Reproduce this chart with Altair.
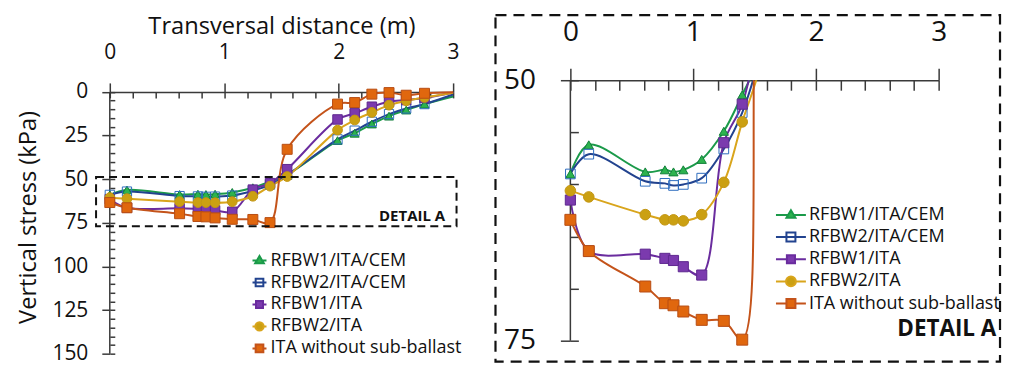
import altair as alt
import pandas as pd

# ---------------- data ----------------
series_names = ["RFBW1/ITA/CEM", "RFBW2/ITA/CEM", "RFBW1/ITA", "RFBW2/ITA", "ITA without sub-ballast"]
distance_m = [0.0, 0.15, 0.61, 0.77, 0.84, 0.92, 1.07, 1.25, 1.40, 1.55, 1.99, 2.14, 2.29, 2.44, 2.59, 2.75, 3.0]
stress_rfbw1_ita_cem = [59.0, 56.2, 58.8, 58.6, 58.8, 58.6, 57.6, 54.9, 51.4, 47.5, 27.9, 23.7, 18.4, 13.9, 10.4, 7.0, 2.6]
stress_rfbw2_ita_cem = [59.0, 57.1, 59.7, 59.9, 60.1, 60.0, 59.4, 56.6, 53.1, 47.5, 27.2, 22.2, 17.1, 12.7, 9.5, 7.0, 1.5]
stress_rfbw1_ita = [61.5, 66.4, 66.7, 67.1, 67.3, 67.9, 68.7, 56.0, 52.3, 44.3, 15.8, 12.3, 8.5, 5.7, 4.7, 3.5, 0.5]
stress_rfbw2_ita = [60.6, 61.2, 62.9, 63.4, 63.4, 63.5, 62.9, 59.8, 54.0, 48.5, 21.9, 16.1, 11.8, 7.6, 5.1, 3.2, 0.5]
stress_ita_no_subballast = [63.4, 66.4, 69.8, 71.4, 71.6, 72.2, 73.0, 73.1, 74.9, 32.9, 7.0, 6.1, 1.3, 0.4, 1.9, 0.8, 0.2]

x_ticks_major = [0, 1, 2, 3]
x_ticks_minor = [round(i * 0.2, 1) for i in range(16)]
y_ticks_main = [0, 25, 50, 75, 100, 125, 150]
y_ticks_main_minor = list(range(0, 151, 5))
y_ticks_detail = [50, 75]
y_ticks_detail_minor = [50, 55, 60, 65, 70, 75]

# axis extents (data units)
main_y_range = [0, 150]
detail_y_range = [50, 75]

# annotation boxes / labels (data units)
detail_box_main_x = [-0.12, 3.03]
detail_box_main_y = [48.7, 77.0]
detail_box_panel_x = [-0.61, 3.50]
detail_box_panel_y = [43.75, 77.0]
detail_label_main = [2.93, 70.9]
detail_label_panel = [3.47, 73.9]
detail_text = "DETAIL A"

# ---------------- styles ----------------
FONT = "Open Sans"
AXC = "#3a3a3a"
line_colors = ["#1B9A4A", "#22438F", "#6A2C9E", "#D9A51C", "#C4531A"]
marker_strokes = ["#11803A", "#2F6DBF", "#5E2890", "#C29512", "#B84D14"]
marker_fills = ["#2DB34E", "transparent", "#7B3AAE", "#CBA012", "#E0670E"]
marker_shapes = ["triangle-up", "square", "square", "circle", "square"]
marker_sizes_main = [81, 100, 60, 115, 87]
marker_sizes_detail = [85, 121, 55, 100, 100]


def legend_path(kind, m, through=False):
    if kind == "triangle-up":
        mk = f"M0,{-1.05*m:.3f}L{m:.3f},{0.65*m:.3f}L{-m:.3f},{0.65*m:.3f}Z"
        g = 0.62 * m
    elif kind == "square":
        mk = f"M{-m:.3f},{-m:.3f}H{m:.3f}V{m:.3f}H{-m:.3f}Z"
        g = m
    else:
        mk = f"M{-m:.3f},0A{m:.3f},{m:.3f},0,1,1,{m:.3f},0A{m:.3f},{m:.3f},0,1,1,{-m:.3f},0Z"
        g = m
    ln = "M-1,0H1" if through else f"M-1,0H{-g:.3f}M{g:.3f},0H1"
    return ln + mk


legend_m_main = [0.62, 0.55, 0.5, 0.6, 0.55]
legend_m_detail = [0.3, 0.3, 0.27, 0.33, 0.3]
legend_paths_main = [legend_path(k, m, i == 1) for i, (k, m) in enumerate(zip(marker_shapes, legend_m_main))]
legend_paths_detail = [legend_path(k, m, i == 1) for i, (k, m) in enumerate(zip(marker_shapes, legend_m_detail))]

rows = []
for name, vals in zip(series_names, [stress_rfbw1_ita_cem, stress_rfbw2_ita_cem, stress_rfbw1_ita,
                                      stress_rfbw2_ita, stress_ita_no_subballast]):
    for i, (xv, yv) in enumerate(zip(distance_m, vals)):
        rows.append({"series": name, "x": xv, "y": yv, "idx": i})
df = pd.DataFrame(rows)


def panel(p):
    w, h, top = p["w"], p["h"], p["top"]
    xs = alt.Scale(domain=[0, 3], nice=False, zero=False)
    ys = alt.Scale(domain=p["ydom"], reverse=True, nice=False, zero=False)
    base = alt.Chart(df)
    lo, hi = p["yrange"]
    in_view = f"datum.y >= {lo} && datum.y <= {hi}"

    lines = base.mark_line(interpolate="catmull-rom", strokeWidth=2, clip=p["clip"]).encode(
        x=alt.X("x:Q", scale=xs, axis=alt.Axis(
            orient="top", offset=-top, values=x_ticks_major, format="d", labelFlush=False,
            labelOverlap=False, tickSize=p["xt"], labelPadding=p["xpad"], labelFontSize=p["lab"],
            title=p["xtitle"], titleFontSize=23.7, titlePadding=p["xtp"])),
        y=alt.Y("y:Q", scale=ys, axis=alt.Axis(
            orient="left", values=p["yvals"], labelOverlap=False, labelFlush=False, domain=False,
            tickSize=p["yt"], labelPadding=p["ypad"], labelFontSize=p["lab"], title=p["ytitle"],
            titleFontSize=23.7, titlePadding=p["ytp"])),
        stroke=alt.Stroke("series:N", scale=alt.Scale(domain=series_names, range=line_colors), legend=None),
    )

    # vertical axis line (y axis domain) drawn from the axis extent
    yline = alt.Chart(pd.DataFrame({"y0": [lo], "y1": [hi]})).mark_rule(
        color=AXC, strokeWidth=1.5).encode(
        x=alt.X(datum=0, scale=xs, axis=None),
        y=alt.Y("y0:Q", scale=ys, axis=None), y2="y1:Q")

    pts_base = base.transform_filter("datum.x < 3").transform_filter(in_view)
    points = pts_base.mark_point(filled=True, opacity=1, strokeWidth=1).encode(
        x=alt.X("x:Q", scale=xs, axis=alt.Axis(
            orient="bottom", offset=-(h - top), values=x_ticks_minor, labels=False, domain=False,
            tickSize=p["xmt"], title=None)),
        y=alt.Y("y:Q", scale=ys, axis=alt.Axis(
            orient="right", offset=-w, values=p["ymvals"], labels=False, domain=False,
            tickSize=p["ymt"], title=None)),
        shape=alt.Shape("series:N", scale=alt.Scale(domain=series_names, range=marker_shapes), legend=None),
        fill=alt.Fill("series:N", scale=alt.Scale(domain=series_names, range=marker_fills), legend=None),
        stroke=alt.Stroke("series:N", scale=alt.Scale(domain=series_names, range=marker_strokes), legend=None),
        size=alt.Size("series:N", scale=alt.Scale(domain=series_names, range=p["sizes"]), legend=None),
    )

    leg = alt.Legend(orient="none", legendX=p["lx"], legendY=p["ly"], title=None,
                     symbolSize=p["ssize"], symbolStrokeWidth=2, symbolOpacity=1,
                     labelFont=FONT, labelFontSize=18, labelColor="#111111", labelOffset=2,
                     clipHeight=18, rowPadding=p["rowpad"], padding=0, labelLimit=400)
    hidden = base.transform_filter(in_view).mark_point(filled=True, opacity=0, clip=True).encode(
        x=alt.X("x:Q", scale=xs, axis=None),
        y=alt.Y("y:Q", scale=ys, axis=None),
        shape=alt.Shape("series:N", scale=alt.Scale(domain=series_names, range=p["lpaths"]), legend=leg),
        fill=alt.Fill("series:N", scale=alt.Scale(domain=series_names, range=marker_fills), legend=leg),
        stroke=alt.Stroke("series:N", scale=alt.Scale(domain=series_names, range=line_colors), legend=leg),
    )

    box_df = pd.DataFrame({"x0": [p["bx"][0]], "x1": [p["bx"][1]], "y0": [p["by"][0]], "y1": [p["by"][1]]})
    box = alt.Chart(box_df).mark_rect(filled=False, stroke="#111111", strokeWidth=p["bsw"],
                                      strokeDash=p["dash"], clip=False).encode(
        x=alt.X("x0:Q", scale=xs, axis=None), x2="x1:Q",
        y=alt.Y("y0:Q", scale=ys, axis=None), y2="y1:Q")

    txt_df = pd.DataFrame({"x": [p["tpos"][0]], "y": [p["tpos"][1]], "t": [detail_text]})
    txt = alt.Chart(txt_df).mark_text(align="right", baseline="middle", fontWeight="bold",
                                      fontSize=p["tfs"], font=FONT, color="#111111", clip=False).encode(
        x=alt.X("x:Q", scale=xs, axis=None), y=alt.Y("y:Q", scale=ys, axis=None), text="t:N")

    return alt.layer(lines, yline, points, hidden, box, txt).resolve_scale(
        shape="independent", stroke="independent", fill="independent", size="independent"
    ).resolve_axis(x="independent", y="independent").properties(width=w, height=h)


# main panel: plot area starts 11.7 px above the 0 kPa line (1.7487 px per kPa)
main_top_px = 11.7
main_p = dict(w=344, h=262.3 + main_top_px, top=main_top_px, ydom=[-main_top_px / 1.7487, 150],
              yrange=main_y_range, clip=False, xt=9, xpad=20, lab=21, xtitle="Transversal distance (m)",
              xtp=4, yvals=y_ticks_main, yt=8, ypad=14, ytitle="Vertical stress (kPa)", ytp=11,
              xmt=6, ymt=5, ymvals=y_ticks_main_minor, sizes=marker_sizes_main,
              lx=141, ly=160 + main_top_px, ssize=196, rowpad=4, lpaths=legend_paths_main,
              bx=detail_box_main_x, by=detail_box_main_y, bsw=2, dash=[8, 5],
              tpos=detail_label_main, tfs=15)
detail_p = dict(w=369, h=261, top=0, ydom=detail_y_range, yrange=detail_y_range, clip=True,
                xt=12, xpad=22, lab=28, xtitle=None, xtp=0,
                yvals=y_ticks_detail, yt=10, ypad=25, ytitle=None, ytp=0,
                xmt=10, ymt=8, ymvals=y_ticks_detail_minor, sizes=marker_sizes_detail,
                lx=205, ly=126, ssize=900, rowpad=4.2, lpaths=legend_paths_detail,
                bx=detail_box_panel_x, by=detail_box_panel_y, bsw=2.2, dash=[11, 7],
                tpos=detail_label_panel, tfs=22.5)

chart = alt.hconcat(panel(main_p), panel(detail_p), spacing=31.5).resolve_scale(
    shape="independent", stroke="independent", fill="independent", size="independent"
).properties(
    padding={"left": 8, "top": 5, "right": 5, "bottom": 5}
).configure(font=FONT).configure_view(strokeWidth=0).configure_axis(
    domainColor=AXC, tickColor=AXC, domainWidth=1.5, tickWidth=1.5, labelColor="#111111",
    titleColor="#111111", grid=False, labelFont=FONT, titleFont=FONT, titleFontWeight="normal"
)

chart.save("out.html", embed_options={"renderer": "svg", "actions": False})
